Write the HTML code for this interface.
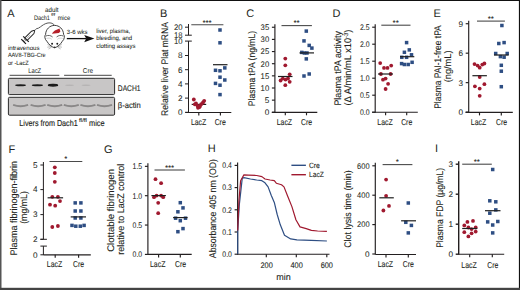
<!DOCTYPE html>
<html><head><meta charset="utf-8"><style>html,body{margin:0;padding:0;width:520px;height:290px;overflow:hidden;background:#fff} text{stroke:#231f20;stroke-width:0.1px}</style></head>
<body>
<svg width="520" height="290" viewBox="0 0 520 290" style="position:absolute;left:0;top:0;font-family:'Liberation Sans', sans-serif;text-rendering:geometricPrecision">
<rect x="0" y="0" width="520" height="290" fill="#fff"/>
<text x="7.2" y="16.6" font-size="11" text-anchor="start" fill="#231f20" style="stroke-width:0">A</text>
<text x="160" y="16.6" font-size="11" text-anchor="start" fill="#231f20" style="stroke-width:0">B</text>
<text x="246.2" y="17" font-size="11" text-anchor="start" fill="#231f20" style="stroke-width:0">C</text>
<text x="332.6" y="17" font-size="11" text-anchor="start" fill="#231f20" style="stroke-width:0">D</text>
<text x="433.4" y="17" font-size="11" text-anchor="start" fill="#231f20" style="stroke-width:0">E</text>
<text x="8.4" y="152.7" font-size="11" text-anchor="start" fill="#231f20" style="stroke-width:0">F</text>
<text x="104" y="153.4" font-size="11" text-anchor="start" fill="#231f20" style="stroke-width:0">G</text>
<text x="207.8" y="152.4" font-size="11" text-anchor="start" fill="#231f20" style="stroke-width:0">H</text>
<text x="435" y="152.4" font-size="11" text-anchor="start" fill="#231f20" style="stroke-width:0">I</text>
<line x1="188.5" y1="24" x2="188.5" y2="35.2" stroke="#231f20" stroke-width="1"/>
<line x1="185" y1="27.2" x2="188.5" y2="27.2" stroke="#231f20" stroke-width="1"/>
<line x1="185" y1="35.2" x2="191.8" y2="35.2" stroke="#231f20" stroke-width="1"/>
<line x1="185" y1="41.1" x2="191.8" y2="41.1" stroke="#231f20" stroke-width="1"/>
<line x1="188.5" y1="41.1" x2="188.5" y2="112.8" stroke="#231f20" stroke-width="1"/>
<line x1="185" y1="55.5" x2="188.5" y2="55.5" stroke="#231f20" stroke-width="1"/>
<line x1="185" y1="69.7" x2="188.5" y2="69.7" stroke="#231f20" stroke-width="1"/>
<line x1="185" y1="83.9" x2="188.5" y2="83.9" stroke="#231f20" stroke-width="1"/>
<line x1="185" y1="98.1" x2="188.5" y2="98.1" stroke="#231f20" stroke-width="1"/>
<line x1="185" y1="112.3" x2="188.5" y2="112.3" stroke="#231f20" stroke-width="1"/>
<text x="182.5" y="30.07" font-size="8.2" text-anchor="end" fill="#231f20" textLength="8.6" lengthAdjust="spacingAndGlyphs" style="stroke-width:0.04">20</text>
<text x="182.5" y="38.07" font-size="8.2" text-anchor="end" fill="#231f20" textLength="8.6" lengthAdjust="spacingAndGlyphs" style="stroke-width:0.04">18</text>
<text x="182.5" y="44.169999999999995" font-size="8.2" text-anchor="end" fill="#231f20" textLength="8.6" lengthAdjust="spacingAndGlyphs" style="stroke-width:0.04">10</text>
<text x="182.5" y="58.47" font-size="8.2" text-anchor="end" fill="#231f20" style="stroke-width:0.04">8</text>
<text x="182.5" y="72.67" font-size="8.2" text-anchor="end" fill="#231f20" style="stroke-width:0.04">6</text>
<text x="182.5" y="86.77000000000001" font-size="8.2" text-anchor="end" fill="#231f20" style="stroke-width:0.04">4</text>
<text x="182.5" y="100.97" font-size="8.2" text-anchor="end" fill="#231f20" style="stroke-width:0.04">2</text>
<text x="182.5" y="115.17" font-size="8.2" text-anchor="end" fill="#231f20" style="stroke-width:0.04">0</text>
<line x1="185.5" y1="112.5" x2="231.3" y2="112.5" stroke="#231f20" stroke-width="1.15"/>
<line x1="198.8" y1="112.5" x2="198.8" y2="115.5" stroke="#231f20" stroke-width="1.15"/>
<line x1="220.4" y1="112.5" x2="220.4" y2="115.5" stroke="#231f20" stroke-width="1.15"/>
<text x="198.6" y="125.0" font-size="8.5" text-anchor="middle" fill="#231f20" textLength="15.4" lengthAdjust="spacingAndGlyphs" >LacZ</text>
<text x="220.2" y="125.0" font-size="8.5" text-anchor="middle" fill="#231f20" textLength="11.1" lengthAdjust="spacingAndGlyphs" >Cre</text>
<line x1="191.3" y1="24.8" x2="223.4" y2="24.8" stroke="#4a4a4a" stroke-width="1.1"/>
<text x="207.35000000000002" y="24.6" font-size="6.8" text-anchor="middle" fill="#231f20" letter-spacing="0.4" style="stroke-width:0.15">***</text>
<line x1="191.7" y1="104.4" x2="206.2" y2="104.4" stroke="#1f1f1f" stroke-width="1.2"/>
<circle cx="193.8" cy="99.5" r="1.9" fill="#a0192f"/>
<circle cx="196" cy="103.5" r="1.9" fill="#a0192f"/>
<circle cx="194.8" cy="104.3" r="1.9" fill="#a0192f"/>
<circle cx="197.5" cy="105.8" r="1.9" fill="#a0192f"/>
<circle cx="198" cy="107.8" r="1.9" fill="#a0192f"/>
<circle cx="199.8" cy="106.2" r="1.9" fill="#a0192f"/>
<circle cx="201.2" cy="104.2" r="1.9" fill="#a0192f"/>
<circle cx="203" cy="102.5" r="1.9" fill="#a0192f"/>
<circle cx="204.2" cy="100.8" r="1.9" fill="#a0192f"/>
<circle cx="199.3" cy="107.2" r="1.9" fill="#a0192f"/>
<rect x="218.25" y="28.25" width="3.5" height="3.5" fill="#2e4e83"/>
<rect x="218.25" y="41.05" width="3.5" height="3.5" fill="#2e4e83"/>
<rect x="213.75" y="68.55" width="3.5" height="3.5" fill="#2e4e83"/>
<rect x="218.25" y="69.05" width="3.5" height="3.5" fill="#2e4e83"/>
<rect x="223.05" y="66.15" width="3.5" height="3.5" fill="#2e4e83"/>
<rect x="218.25" y="75.45" width="3.5" height="3.5" fill="#2e4e83"/>
<rect x="223.05" y="78.25" width="3.5" height="3.5" fill="#2e4e83"/>
<rect x="213.75" y="81.65" width="3.5" height="3.5" fill="#2e4e83"/>
<rect x="218.25" y="83.45" width="3.5" height="3.5" fill="#2e4e83"/>
<rect x="218.25" y="92.85" width="3.5" height="3.5" fill="#2e4e83"/>
<line x1="213" y1="64.7" x2="227.5" y2="64.7" stroke="#1f1f1f" stroke-width="1.2"/>
<text transform="translate(167.9,69) rotate(-90)" x="0" y="0" font-size="9.6" text-anchor="middle" fill="#231f20" textLength="93.8" lengthAdjust="spacingAndGlyphs">Relative liver Plat mRNA</text>
<line x1="274.9" y1="24.249999999999986" x2="274.9" y2="112.8" stroke="#231f20" stroke-width="1.15"/>
<line x1="271.9" y1="112.3" x2="274.9" y2="112.3" stroke="#231f20" stroke-width="1.15"/>
<text x="269.2" y="115.17" font-size="8.2" text-anchor="end" fill="#231f20" style="stroke-width:0.04">0</text>
<line x1="271.9" y1="100.14999999999999" x2="274.9" y2="100.14999999999999" stroke="#231f20" stroke-width="1.15"/>
<text x="269.2" y="103.02" font-size="8.2" text-anchor="end" fill="#231f20" style="stroke-width:0.04">5</text>
<line x1="271.9" y1="88.0" x2="274.9" y2="88.0" stroke="#231f20" stroke-width="1.15"/>
<text x="269.2" y="90.87" font-size="8.2" text-anchor="end" fill="#231f20" textLength="8.6" lengthAdjust="spacingAndGlyphs" style="stroke-width:0.04">10</text>
<line x1="271.9" y1="75.85" x2="274.9" y2="75.85" stroke="#231f20" stroke-width="1.15"/>
<text x="269.2" y="78.72" font-size="8.2" text-anchor="end" fill="#231f20" textLength="8.6" lengthAdjust="spacingAndGlyphs" style="stroke-width:0.04">15</text>
<line x1="271.9" y1="63.699999999999996" x2="274.9" y2="63.699999999999996" stroke="#231f20" stroke-width="1.15"/>
<text x="269.2" y="66.57" font-size="8.2" text-anchor="end" fill="#231f20" textLength="8.6" lengthAdjust="spacingAndGlyphs" style="stroke-width:0.04">20</text>
<line x1="271.9" y1="51.54999999999999" x2="274.9" y2="51.54999999999999" stroke="#231f20" stroke-width="1.15"/>
<text x="269.2" y="54.41999999999999" font-size="8.2" text-anchor="end" fill="#231f20" textLength="8.6" lengthAdjust="spacingAndGlyphs" style="stroke-width:0.04">25</text>
<line x1="271.9" y1="39.39999999999999" x2="274.9" y2="39.39999999999999" stroke="#231f20" stroke-width="1.15"/>
<text x="269.2" y="42.26999999999999" font-size="8.2" text-anchor="end" fill="#231f20" textLength="8.6" lengthAdjust="spacingAndGlyphs" style="stroke-width:0.04">30</text>
<line x1="271.9" y1="27.249999999999986" x2="274.9" y2="27.249999999999986" stroke="#231f20" stroke-width="1.15"/>
<text x="269.2" y="30.119999999999987" font-size="8.2" text-anchor="end" fill="#231f20" textLength="8.6" lengthAdjust="spacingAndGlyphs" style="stroke-width:0.04">35</text>
<line x1="271.8" y1="112.3" x2="317.3" y2="112.3" stroke="#231f20" stroke-width="1.15"/>
<line x1="285.3" y1="112.3" x2="285.3" y2="115.3" stroke="#231f20" stroke-width="1.15"/>
<line x1="306.5" y1="112.3" x2="306.5" y2="115.3" stroke="#231f20" stroke-width="1.15"/>
<text x="284.4" y="124.9" font-size="8.5" text-anchor="middle" fill="#231f20" textLength="15.4" lengthAdjust="spacingAndGlyphs" >LacZ</text>
<text x="306.5" y="124.9" font-size="8.5" text-anchor="middle" fill="#231f20" textLength="11.1" lengthAdjust="spacingAndGlyphs" >Cre</text>
<line x1="281.5" y1="25.6" x2="311.9" y2="25.6" stroke="#4a4a4a" stroke-width="1.1"/>
<text x="296.7" y="25.400000000000002" font-size="6.8" text-anchor="middle" fill="#231f20" letter-spacing="0.4" style="stroke-width:0.15">**</text>
<circle cx="285.3" cy="58.6" r="1.9" fill="#a0192f"/>
<circle cx="285.3" cy="65.3" r="1.9" fill="#a0192f"/>
<circle cx="289.7" cy="74.3" r="1.9" fill="#a0192f"/>
<circle cx="280.6" cy="80.5" r="1.9" fill="#a0192f"/>
<circle cx="282.8" cy="78.6" r="1.9" fill="#a0192f"/>
<circle cx="285.5" cy="79.6" r="1.9" fill="#a0192f"/>
<circle cx="288" cy="78.5" r="1.9" fill="#a0192f"/>
<circle cx="289.7" cy="81.8" r="1.9" fill="#a0192f"/>
<circle cx="285.3" cy="85.2" r="1.9" fill="#a0192f"/>
<line x1="278" y1="76.5" x2="292.5" y2="76.5" stroke="#1f1f1f" stroke-width="1.2"/>
<rect x="304.55" y="29.35" width="3.5" height="3.5" fill="#2e4e83"/>
<rect x="302.25" y="39.15" width="3.5" height="3.5" fill="#2e4e83"/>
<rect x="307.45" y="43.65" width="3.5" height="3.5" fill="#2e4e83"/>
<rect x="310.15" y="46.35" width="3.5" height="3.5" fill="#2e4e83"/>
<rect x="300.05" y="50.65" width="3.5" height="3.5" fill="#2e4e83"/>
<rect x="302.65" y="51.25" width="3.5" height="3.5" fill="#2e4e83"/>
<rect x="305.25" y="51.25" width="3.5" height="3.5" fill="#2e4e83"/>
<rect x="304.55" y="57.15" width="3.5" height="3.5" fill="#2e4e83"/>
<rect x="302.25" y="74.25" width="3.5" height="3.5" fill="#2e4e83"/>
<rect x="307.45" y="72.25" width="3.5" height="3.5" fill="#2e4e83"/>
<line x1="299.5" y1="52.9" x2="314" y2="52.9" stroke="#1f1f1f" stroke-width="1.2"/>
<text transform="translate(254.5,68.6) rotate(-90)" x="0" y="0" font-size="9.6" text-anchor="middle" fill="#231f20" textLength="75.2" lengthAdjust="spacingAndGlyphs">Plasma tPA (ng/mL)</text>
<line x1="375.2" y1="24.200000000000003" x2="375.2" y2="112.7" stroke="#231f20" stroke-width="1.15"/>
<line x1="372.2" y1="112.2" x2="375.2" y2="112.2" stroke="#231f20" stroke-width="1.15"/>
<text x="369.5" y="115.07000000000001" font-size="8.2" text-anchor="end" fill="#231f20" textLength="9.6" lengthAdjust="spacingAndGlyphs" style="stroke-width:0.04">0.0</text>
<line x1="372.2" y1="95.2" x2="375.2" y2="95.2" stroke="#231f20" stroke-width="1.15"/>
<text x="369.5" y="98.07000000000001" font-size="8.2" text-anchor="end" fill="#231f20" textLength="9.6" lengthAdjust="spacingAndGlyphs" style="stroke-width:0.04">0.5</text>
<line x1="372.2" y1="78.2" x2="375.2" y2="78.2" stroke="#231f20" stroke-width="1.15"/>
<text x="369.5" y="81.07000000000001" font-size="8.2" text-anchor="end" fill="#231f20" textLength="9.6" lengthAdjust="spacingAndGlyphs" style="stroke-width:0.04">1.0</text>
<line x1="372.2" y1="61.2" x2="375.2" y2="61.2" stroke="#231f20" stroke-width="1.15"/>
<text x="369.5" y="64.07000000000001" font-size="8.2" text-anchor="end" fill="#231f20" textLength="9.6" lengthAdjust="spacingAndGlyphs" style="stroke-width:0.04">1.5</text>
<line x1="372.2" y1="44.2" x2="375.2" y2="44.2" stroke="#231f20" stroke-width="1.15"/>
<text x="369.5" y="47.07" font-size="8.2" text-anchor="end" fill="#231f20" textLength="9.6" lengthAdjust="spacingAndGlyphs" style="stroke-width:0.04">2.0</text>
<line x1="372.2" y1="27.200000000000003" x2="375.2" y2="27.200000000000003" stroke="#231f20" stroke-width="1.15"/>
<text x="369.5" y="30.070000000000004" font-size="8.2" text-anchor="end" fill="#231f20" textLength="9.6" lengthAdjust="spacingAndGlyphs" style="stroke-width:0.04">2.5</text>
<line x1="372" y1="112.2" x2="417.8" y2="112.2" stroke="#231f20" stroke-width="1.15"/>
<line x1="385.6" y1="112.2" x2="385.6" y2="115.2" stroke="#231f20" stroke-width="1.15"/>
<line x1="406.7" y1="112.2" x2="406.7" y2="115.2" stroke="#231f20" stroke-width="1.15"/>
<text x="385" y="124.8" font-size="8.5" text-anchor="middle" fill="#231f20" textLength="15.4" lengthAdjust="spacingAndGlyphs" >LacZ</text>
<text x="406.7" y="124.8" font-size="8.5" text-anchor="middle" fill="#231f20" textLength="11.1" lengthAdjust="spacingAndGlyphs" >Cre</text>
<line x1="381.3" y1="25.2" x2="410.5" y2="25.2" stroke="#4a4a4a" stroke-width="1.1"/>
<text x="395.9" y="25.0" font-size="6.8" text-anchor="middle" fill="#231f20" letter-spacing="0.4" style="stroke-width:0.15">**</text>
<circle cx="380.2" cy="63.1" r="1.9" fill="#a0192f"/>
<circle cx="384" cy="67.9" r="1.9" fill="#a0192f"/>
<circle cx="387.5" cy="67.9" r="1.9" fill="#a0192f"/>
<circle cx="391.2" cy="65.6" r="1.9" fill="#a0192f"/>
<circle cx="380.9" cy="74" r="1.9" fill="#a0192f"/>
<circle cx="390.6" cy="74" r="1.9" fill="#a0192f"/>
<circle cx="383" cy="79.7" r="1.9" fill="#a0192f"/>
<circle cx="385.6" cy="78.6" r="1.9" fill="#a0192f"/>
<circle cx="388.1" cy="83.8" r="1.9" fill="#a0192f"/>
<circle cx="385.6" cy="89" r="1.9" fill="#a0192f"/>
<line x1="378" y1="74" x2="392.9" y2="74" stroke="#1f1f1f" stroke-width="1.2"/>
<rect x="404.85" y="40.85" width="3.5" height="3.5" fill="#2e4e83"/>
<rect x="402.65" y="50.55" width="3.5" height="3.5" fill="#2e4e83"/>
<rect x="407.55" y="48.15" width="3.5" height="3.5" fill="#2e4e83"/>
<rect x="409.75" y="53.05" width="3.5" height="3.5" fill="#2e4e83"/>
<rect x="400.05" y="55.55" width="3.5" height="3.5" fill="#2e4e83"/>
<rect x="404.85" y="55.55" width="3.5" height="3.5" fill="#2e4e83"/>
<rect x="399.85" y="61.85" width="3.5" height="3.5" fill="#2e4e83"/>
<rect x="402.65" y="62.75" width="3.5" height="3.5" fill="#2e4e83"/>
<rect x="406.45" y="62.75" width="3.5" height="3.5" fill="#2e4e83"/>
<rect x="410.35" y="60.55" width="3.5" height="3.5" fill="#2e4e83"/>
<line x1="400" y1="56.7" x2="414.3" y2="56.7" stroke="#1f1f1f" stroke-width="1.2"/>
<text transform="translate(341.3,68.3) rotate(-90)" x="0" y="0" font-size="9.6" text-anchor="middle" fill="#231f20" textLength="74.5" lengthAdjust="spacingAndGlyphs">Plasma tPA activity</text>
<text transform="translate(350.6,67.6) rotate(-90)" font-size="9.6" text-anchor="middle" fill="#231f20" textLength="75.8" lengthAdjust="spacingAndGlyphs">(Δ A/min/mL x10<tspan dy="-3" font-size="6">-3</tspan><tspan dy="3">)</tspan></text>
<line x1="468.7" y1="20.72" x2="468.7" y2="112.6" stroke="#231f20" stroke-width="1.15"/>
<line x1="465.7" y1="112.1" x2="468.7" y2="112.1" stroke="#231f20" stroke-width="1.15"/>
<text x="463.0" y="114.97" font-size="8.2" text-anchor="end" fill="#231f20" style="stroke-width:0.04">0</text>
<line x1="465.7" y1="82.63999999999999" x2="468.7" y2="82.63999999999999" stroke="#231f20" stroke-width="1.15"/>
<text x="463.0" y="85.50999999999999" font-size="8.2" text-anchor="end" fill="#231f20" style="stroke-width:0.04">3</text>
<line x1="465.7" y1="53.17999999999999" x2="468.7" y2="53.17999999999999" stroke="#231f20" stroke-width="1.15"/>
<text x="463.0" y="56.04999999999999" font-size="8.2" text-anchor="end" fill="#231f20" style="stroke-width:0.04">6</text>
<line x1="465.7" y1="23.72" x2="468.7" y2="23.72" stroke="#231f20" stroke-width="1.15"/>
<text x="463.0" y="26.59" font-size="8.2" text-anchor="end" fill="#231f20" style="stroke-width:0.04">9</text>
<line x1="465.5" y1="112.4" x2="512.8" y2="112.4" stroke="#231f20" stroke-width="1.15"/>
<line x1="479.5" y1="112.4" x2="479.5" y2="115.4" stroke="#231f20" stroke-width="1.15"/>
<line x1="501.3" y1="112.4" x2="501.3" y2="115.4" stroke="#231f20" stroke-width="1.15"/>
<text x="478.5" y="125.0" font-size="8.5" text-anchor="middle" fill="#231f20" textLength="15.4" lengthAdjust="spacingAndGlyphs" >LacZ</text>
<text x="501.5" y="125.0" font-size="8.5" text-anchor="middle" fill="#231f20" textLength="11.1" lengthAdjust="spacingAndGlyphs" >Cre</text>
<line x1="477" y1="21.1" x2="504.9" y2="21.1" stroke="#4a4a4a" stroke-width="1.1"/>
<text x="490.95" y="20.900000000000002" font-size="6.8" text-anchor="middle" fill="#231f20" letter-spacing="0.4" style="stroke-width:0.15">**</text>
<circle cx="474.5" cy="64.1" r="1.9" fill="#a0192f"/>
<circle cx="477.6" cy="65.6" r="1.9" fill="#a0192f"/>
<circle cx="479.7" cy="67.7" r="1.9" fill="#a0192f"/>
<circle cx="482.3" cy="64.6" r="1.9" fill="#a0192f"/>
<circle cx="484.4" cy="63.5" r="1.9" fill="#a0192f"/>
<circle cx="479.7" cy="77" r="1.9" fill="#a0192f"/>
<circle cx="474.9" cy="86.3" r="1.9" fill="#a0192f"/>
<circle cx="479.7" cy="88.6" r="1.9" fill="#a0192f"/>
<circle cx="484.4" cy="84.2" r="1.9" fill="#a0192f"/>
<circle cx="479.7" cy="95.8" r="1.9" fill="#a0192f"/>
<line x1="472.4" y1="75.7" x2="486.9" y2="75.7" stroke="#1f1f1f" stroke-width="1.2"/>
<rect x="500.15" y="23.75" width="3.5" height="3.5" fill="#2e4e83"/>
<rect x="497.05" y="41.75" width="3.5" height="3.5" fill="#2e4e83"/>
<rect x="502.35" y="40.85" width="3.5" height="3.5" fill="#2e4e83"/>
<rect x="493.95" y="51.75" width="3.5" height="3.5" fill="#2e4e83"/>
<rect x="498.65" y="54.85" width="3.5" height="3.5" fill="#2e4e83"/>
<rect x="502.35" y="55.45" width="3.5" height="3.5" fill="#2e4e83"/>
<rect x="505.45" y="51.75" width="3.5" height="3.5" fill="#2e4e83"/>
<rect x="499.55" y="63.55" width="3.5" height="3.5" fill="#2e4e83"/>
<rect x="499.55" y="69.45" width="3.5" height="3.5" fill="#2e4e83"/>
<rect x="499.55" y="84.95" width="3.5" height="3.5" fill="#2e4e83"/>
<line x1="494" y1="55" x2="508.6" y2="55" stroke="#1f1f1f" stroke-width="1.2"/>
<text transform="translate(441.2,67) rotate(-90)" x="0" y="0" font-size="9.6" text-anchor="middle" fill="#231f20" textLength="83.5" lengthAdjust="spacingAndGlyphs">Plasma PAI-1-free tPA</text>
<text transform="translate(451.4,66.4) rotate(-90)" x="0" y="0" font-size="9.6" text-anchor="middle" fill="#231f20" textLength="31.9" lengthAdjust="spacingAndGlyphs">(ng/mL)</text>
<line x1="43.4" y1="162" x2="43.4" y2="239.3" stroke="#231f20" stroke-width="1"/>
<line x1="40.4" y1="165" x2="43.4" y2="165" stroke="#231f20" stroke-width="1"/>
<text x="37.5" y="167.87" font-size="8.2" text-anchor="end" fill="#231f20" style="stroke-width:0.04">5</text>
<line x1="40.4" y1="189.6" x2="43.4" y2="189.6" stroke="#231f20" stroke-width="1"/>
<text x="37.5" y="192.47" font-size="8.2" text-anchor="end" fill="#231f20" style="stroke-width:0.04">4</text>
<line x1="40.4" y1="214.6" x2="43.4" y2="214.6" stroke="#231f20" stroke-width="1"/>
<text x="37.5" y="217.47" font-size="8.2" text-anchor="end" fill="#231f20" style="stroke-width:0.04">3</text>
<line x1="40.4" y1="239.3" x2="43.4" y2="239.3" stroke="#231f20" stroke-width="1"/>
<text x="37.5" y="242.17000000000002" font-size="8.2" text-anchor="end" fill="#231f20" style="stroke-width:0.04">2</text>
<line x1="40.4" y1="239.3" x2="46.9" y2="239.3" stroke="#231f20" stroke-width="1"/>
<line x1="40.4" y1="246.1" x2="46.9" y2="246.1" stroke="#231f20" stroke-width="1"/>
<line x1="43.4" y1="246.1" x2="43.4" y2="255" stroke="#231f20" stroke-width="1"/>
<line x1="40.4" y1="254.8" x2="43.4" y2="254.8" stroke="#231f20" stroke-width="1"/>
<text x="37.5" y="257.67" font-size="8.2" text-anchor="end" fill="#231f20" style="stroke-width:0.04">0</text>
<line x1="43.4" y1="254.8" x2="90.8" y2="254.8" stroke="#231f20" stroke-width="1.15"/>
<line x1="55.2" y1="254.8" x2="55.2" y2="257.8" stroke="#231f20" stroke-width="1.15"/>
<line x1="78.6" y1="254.8" x2="78.6" y2="257.8" stroke="#231f20" stroke-width="1.15"/>
<text x="54.5" y="267.3" font-size="8.5" text-anchor="middle" fill="#231f20" textLength="15.4" lengthAdjust="spacingAndGlyphs" >LacZ</text>
<text x="78.5" y="267.3" font-size="8.5" text-anchor="middle" fill="#231f20" textLength="11.1" lengthAdjust="spacingAndGlyphs" >Cre</text>
<line x1="49.5" y1="161.5" x2="82.3" y2="161.5" stroke="#4a4a4a" stroke-width="1.1"/>
<text x="65.9" y="161.3" font-size="6.8" text-anchor="middle" fill="#231f20" letter-spacing="0.4" style="stroke-width:0.15">*</text>
<circle cx="54.8" cy="167.3" r="1.9" fill="#a0192f"/>
<circle cx="54.8" cy="173" r="1.9" fill="#a0192f"/>
<circle cx="54.8" cy="181.8" r="1.9" fill="#a0192f"/>
<circle cx="52.3" cy="196.8" r="1.9" fill="#a0192f"/>
<circle cx="57.9" cy="196.8" r="1.9" fill="#a0192f"/>
<circle cx="50" cy="204.7" r="1.9" fill="#a0192f"/>
<circle cx="55.2" cy="205.7" r="1.9" fill="#a0192f"/>
<circle cx="60" cy="201.1" r="1.9" fill="#a0192f"/>
<circle cx="52.3" cy="227" r="1.9" fill="#a0192f"/>
<circle cx="57.9" cy="226" r="1.9" fill="#a0192f"/>
<line x1="47.6" y1="197.8" x2="63.1" y2="197.8" stroke="#1f1f1f" stroke-width="1.2"/>
<rect x="73.45" y="201.15" width="3.5" height="3.5" fill="#2e4e83"/>
<rect x="79.15" y="201.15" width="3.5" height="3.5" fill="#2e4e83"/>
<rect x="73.45" y="209.25" width="3.5" height="3.5" fill="#2e4e83"/>
<rect x="79.15" y="209.25" width="3.5" height="3.5" fill="#2e4e83"/>
<rect x="73.45" y="216.25" width="3.5" height="3.5" fill="#2e4e83"/>
<rect x="79.15" y="216.25" width="3.5" height="3.5" fill="#2e4e83"/>
<rect x="70.25" y="223.65" width="3.5" height="3.5" fill="#2e4e83"/>
<rect x="74.05" y="224.45" width="3.5" height="3.5" fill="#2e4e83"/>
<rect x="78.55" y="224.45" width="3.5" height="3.5" fill="#2e4e83"/>
<rect x="82.35" y="223.65" width="3.5" height="3.5" fill="#2e4e83"/>
<line x1="70.7" y1="216.9" x2="86" y2="216.9" stroke="#1f1f1f" stroke-width="1.2"/>
<text transform="translate(16.9,208.2) rotate(-90)" x="0" y="0" font-size="9.6" text-anchor="middle" fill="#231f20" textLength="94.6" lengthAdjust="spacingAndGlyphs">Plasma fibrinogen-fibrin</text>
<text transform="translate(26.7,207.5) rotate(-90)" x="0" y="0" font-size="9.6" text-anchor="middle" fill="#231f20" textLength="32.6" lengthAdjust="spacingAndGlyphs">(mg/mL)</text>
<line x1="147.9" y1="163.35" x2="147.9" y2="254.9" stroke="#231f20" stroke-width="1.15"/>
<line x1="144.9" y1="254.4" x2="147.9" y2="254.4" stroke="#231f20" stroke-width="1.15"/>
<text x="142.20000000000002" y="257.27" font-size="8.2" text-anchor="end" fill="#231f20" textLength="9.6" lengthAdjust="spacingAndGlyphs" style="stroke-width:0.04">0.0</text>
<line x1="144.9" y1="225.05" x2="147.9" y2="225.05" stroke="#231f20" stroke-width="1.15"/>
<text x="142.20000000000002" y="227.92000000000002" font-size="8.2" text-anchor="end" fill="#231f20" textLength="9.6" lengthAdjust="spacingAndGlyphs" style="stroke-width:0.04">0.5</text>
<line x1="144.9" y1="195.7" x2="147.9" y2="195.7" stroke="#231f20" stroke-width="1.15"/>
<text x="142.20000000000002" y="198.57" font-size="8.2" text-anchor="end" fill="#231f20" textLength="9.6" lengthAdjust="spacingAndGlyphs" style="stroke-width:0.04">1.0</text>
<line x1="144.9" y1="166.35" x2="147.9" y2="166.35" stroke="#231f20" stroke-width="1.15"/>
<text x="142.20000000000002" y="169.22" font-size="8.2" text-anchor="end" fill="#231f20" textLength="9.6" lengthAdjust="spacingAndGlyphs" style="stroke-width:0.04">1.5</text>
<line x1="147.9" y1="254.4" x2="191.7" y2="254.4" stroke="#231f20" stroke-width="1.15"/>
<line x1="158.6" y1="254.4" x2="158.6" y2="257.4" stroke="#231f20" stroke-width="1.15"/>
<line x1="180.3" y1="254.4" x2="180.3" y2="257.4" stroke="#231f20" stroke-width="1.15"/>
<text x="157.7" y="267.09999999999997" font-size="8.5" text-anchor="middle" fill="#231f20" textLength="15.4" lengthAdjust="spacingAndGlyphs" >LacZ</text>
<text x="180.6" y="267.09999999999997" font-size="8.5" text-anchor="middle" fill="#231f20" textLength="11.1" lengthAdjust="spacingAndGlyphs" >Cre</text>
<line x1="154.5" y1="170.0" x2="184.9" y2="170.0" stroke="#4a4a4a" stroke-width="1.1"/>
<text x="169.7" y="169.8" font-size="6.8" text-anchor="middle" fill="#231f20" letter-spacing="0.4" style="stroke-width:0.15">***</text>
<circle cx="155.5" cy="179.2" r="1.9" fill="#a0192f"/>
<circle cx="161.1" cy="183.2" r="1.9" fill="#a0192f"/>
<circle cx="154" cy="197.2" r="1.9" fill="#a0192f"/>
<circle cx="156.6" cy="195.6" r="1.9" fill="#a0192f"/>
<circle cx="161.1" cy="195.6" r="1.9" fill="#a0192f"/>
<circle cx="163.2" cy="197.2" r="1.9" fill="#a0192f"/>
<circle cx="158.2" cy="202.8" r="1.9" fill="#a0192f"/>
<circle cx="158.2" cy="213.2" r="1.9" fill="#a0192f"/>
<line x1="151.4" y1="195.6" x2="165.9" y2="195.6" stroke="#1f1f1f" stroke-width="1.2"/>
<rect x="178.55" y="200.95" width="3.5" height="3.5" fill="#2e4e83"/>
<rect x="181.25" y="206.15" width="3.5" height="3.5" fill="#2e4e83"/>
<rect x="176.15" y="210.05" width="3.5" height="3.5" fill="#2e4e83"/>
<rect x="173.85" y="216.45" width="3.5" height="3.5" fill="#2e4e83"/>
<rect x="178.55" y="218.95" width="3.5" height="3.5" fill="#2e4e83"/>
<rect x="183.75" y="216.45" width="3.5" height="3.5" fill="#2e4e83"/>
<rect x="181.25" y="226.85" width="3.5" height="3.5" fill="#2e4e83"/>
<rect x="176.15" y="229.95" width="3.5" height="3.5" fill="#2e4e83"/>
<line x1="173.1" y1="217.6" x2="187.6" y2="217.6" stroke="#1f1f1f" stroke-width="1.2"/>
<text transform="translate(114,210.4) rotate(-90)" x="0" y="0" font-size="9.6" text-anchor="middle" fill="#231f20" textLength="82.9" lengthAdjust="spacingAndGlyphs">Clottable fibrinogen</text>
<text transform="translate(124.3,209.3) rotate(-90)" x="0" y="0" font-size="9.6" text-anchor="middle" fill="#231f20" textLength="90.9" lengthAdjust="spacingAndGlyphs">relative to LacZ control</text>
<line x1="237.6" y1="162.39999999999998" x2="237.6" y2="254.7" stroke="#231f20" stroke-width="1.15"/>
<line x1="234.6" y1="254.2" x2="237.6" y2="254.2" stroke="#231f20" stroke-width="1.15"/>
<text x="231.9" y="257.07" font-size="8.2" text-anchor="end" fill="#231f20" textLength="9.6" lengthAdjust="spacingAndGlyphs" style="stroke-width:0.04">0.0</text>
<line x1="234.6" y1="232.0" x2="237.6" y2="232.0" stroke="#231f20" stroke-width="1.15"/>
<text x="231.9" y="234.87" font-size="8.2" text-anchor="end" fill="#231f20" textLength="9.6" lengthAdjust="spacingAndGlyphs" style="stroke-width:0.04">0.1</text>
<line x1="234.6" y1="209.79999999999998" x2="237.6" y2="209.79999999999998" stroke="#231f20" stroke-width="1.15"/>
<text x="231.9" y="212.67" font-size="8.2" text-anchor="end" fill="#231f20" textLength="9.6" lengthAdjust="spacingAndGlyphs" style="stroke-width:0.04">0.2</text>
<line x1="234.6" y1="187.6" x2="237.6" y2="187.6" stroke="#231f20" stroke-width="1.15"/>
<text x="231.9" y="190.47" font-size="8.2" text-anchor="end" fill="#231f20" textLength="9.6" lengthAdjust="spacingAndGlyphs" style="stroke-width:0.04">0.3</text>
<line x1="234.6" y1="165.39999999999998" x2="237.6" y2="165.39999999999998" stroke="#231f20" stroke-width="1.15"/>
<text x="231.9" y="168.26999999999998" font-size="8.2" text-anchor="end" fill="#231f20" textLength="9.6" lengthAdjust="spacingAndGlyphs" style="stroke-width:0.04">0.4</text>
<line x1="237.6" y1="254.2" x2="329.5" y2="254.2" stroke="#231f20" stroke-width="1.15"/>
<line x1="266.3" y1="254.2" x2="266.3" y2="257.2" stroke="#231f20" stroke-width="1.15"/>
<line x1="296.3" y1="254.2" x2="296.3" y2="257.2" stroke="#231f20" stroke-width="1.15"/>
<line x1="326.8" y1="254.2" x2="326.8" y2="257.2" stroke="#231f20" stroke-width="1.15"/>
<text x="266.6" y="267.8" font-size="8.2" text-anchor="middle" fill="#231f20" textLength="12.3" lengthAdjust="spacingAndGlyphs" >200</text>
<text x="296.6" y="267.8" font-size="8.2" text-anchor="middle" fill="#231f20" textLength="12.3" lengthAdjust="spacingAndGlyphs" >400</text>
<text x="326.8" y="267.8" font-size="8.2" text-anchor="middle" fill="#231f20" textLength="12.3" lengthAdjust="spacingAndGlyphs" >600</text>
<text x="283.5" y="280.3" font-size="9" text-anchor="middle" fill="#231f20" >min</text>
<text transform="translate(215.9,208.6) rotate(-90)" x="0" y="0" font-size="9.6" text-anchor="middle" fill="#231f20" textLength="99.1" lengthAdjust="spacingAndGlyphs">Absorbance 405 nm (OD)</text>
<polyline points="237.7,254 237.7,230.5 239.3,205 242.2,178.6 243.9,177.6 250.5,179 256.7,180 261.9,180.7 265,182.8 268.1,186.9 271.2,195.2 274.3,202.4 277.2,214.5 280.3,224.8 284.5,235.2 290.7,238.9 296.9,239.9 311.4,240.3 326.9,241" fill="none" stroke="#2e4e83" stroke-width="1.2" stroke-linejoin="round"/>
<polyline points="237.7,230.5 238.9,201 240.6,180.7 243.9,174.9 248.4,175.1 256.7,175.5 261.9,176.6 265,179 270.1,180 274.3,180.7 276.3,183.2 281.5,184.8 284,186.9 287.7,196.2 291.9,206.6 295.9,219.7 300,226.9 306.2,228.6 311.4,230.4 317.6,231 326.9,231.4" fill="none" stroke="#a0192f" stroke-width="1.2" stroke-linejoin="round"/>
<line x1="291.4" y1="165.3" x2="305.9" y2="165.3" stroke="#2e4e83" stroke-width="1.4"/>
<line x1="291.4" y1="174.7" x2="305.9" y2="174.7" stroke="#a0192f" stroke-width="1.4"/>
<text x="309" y="167.9" font-size="7.6" text-anchor="start" fill="#231f20" textLength="10.8" lengthAdjust="spacingAndGlyphs" >Cre</text>
<text x="309" y="177.2" font-size="7.6" text-anchor="start" fill="#231f20" textLength="14.9" lengthAdjust="spacingAndGlyphs" >LacZ</text>
<line x1="375.3" y1="162.8" x2="375.3" y2="254.5" stroke="#231f20" stroke-width="1.15"/>
<line x1="372.3" y1="254.0" x2="375.3" y2="254.0" stroke="#231f20" stroke-width="1.15"/>
<text x="369.6" y="256.87" font-size="8.2" text-anchor="end" fill="#231f20" style="stroke-width:0.04">0</text>
<line x1="372.3" y1="224.6" x2="375.3" y2="224.6" stroke="#231f20" stroke-width="1.15"/>
<text x="369.6" y="227.47" font-size="8.2" text-anchor="end" fill="#231f20" textLength="12.5" lengthAdjust="spacingAndGlyphs" style="stroke-width:0.04">200</text>
<line x1="372.3" y1="195.2" x2="375.3" y2="195.2" stroke="#231f20" stroke-width="1.15"/>
<text x="369.6" y="198.07" font-size="8.2" text-anchor="end" fill="#231f20" textLength="12.5" lengthAdjust="spacingAndGlyphs" style="stroke-width:0.04">400</text>
<line x1="372.3" y1="165.8" x2="375.3" y2="165.8" stroke="#231f20" stroke-width="1.15"/>
<text x="369.6" y="168.67000000000002" font-size="8.2" text-anchor="end" fill="#231f20" textLength="12.5" lengthAdjust="spacingAndGlyphs" style="stroke-width:0.04">600</text>
<line x1="375.3" y1="254.5" x2="416" y2="254.5" stroke="#231f20" stroke-width="1.15"/>
<line x1="386" y1="254.5" x2="386" y2="257.5" stroke="#231f20" stroke-width="1.15"/>
<line x1="408.3" y1="254.5" x2="408.3" y2="257.5" stroke="#231f20" stroke-width="1.15"/>
<text x="385.4" y="267.2" font-size="8.5" text-anchor="middle" fill="#231f20" textLength="15.4" lengthAdjust="spacingAndGlyphs" >LacZ</text>
<text x="408.3" y="267.2" font-size="8.5" text-anchor="middle" fill="#231f20" textLength="11.1" lengthAdjust="spacingAndGlyphs" >Cre</text>
<line x1="382.6" y1="164.60000000000002" x2="412.4" y2="164.60000000000002" stroke="#4a4a4a" stroke-width="1.1"/>
<text x="397.5" y="164.40000000000003" font-size="6.8" text-anchor="middle" fill="#231f20" letter-spacing="0.4" style="stroke-width:0.15">*</text>
<circle cx="386.1" cy="179.6" r="1.9" fill="#a0192f"/>
<circle cx="386.1" cy="195.8" r="1.9" fill="#a0192f"/>
<circle cx="389" cy="205.9" r="1.9" fill="#a0192f"/>
<circle cx="383.4" cy="210.5" r="1.9" fill="#a0192f"/>
<line x1="379.3" y1="197.8" x2="393.8" y2="197.8" stroke="#1f1f1f" stroke-width="1.2"/>
<rect x="406.55" y="201.25" width="3.5" height="3.5" fill="#2e4e83"/>
<rect x="404.05" y="220.55" width="3.5" height="3.5" fill="#2e4e83"/>
<rect x="409.65" y="223.65" width="3.5" height="3.5" fill="#2e4e83"/>
<rect x="406.55" y="231.15" width="3.5" height="3.5" fill="#2e4e83"/>
<line x1="401.1" y1="220.8" x2="416" y2="220.8" stroke="#1f1f1f" stroke-width="1.2"/>
<text transform="translate(351.1,209.1) rotate(-90)" x="0" y="0" font-size="9.6" text-anchor="middle" fill="#231f20" textLength="77.4" lengthAdjust="spacingAndGlyphs">Clot lysis time (min)</text>
<line x1="458.7" y1="161.2" x2="458.7" y2="254.7" stroke="#231f20" stroke-width="1.4"/>
<line x1="455.7" y1="254.2" x2="458.7" y2="254.2" stroke="#231f20" stroke-width="1.4"/>
<text x="453.0" y="257.07" font-size="8.2" text-anchor="end" fill="#231f20" style="stroke-width:0.04">0</text>
<line x1="455.7" y1="224.2" x2="458.7" y2="224.2" stroke="#231f20" stroke-width="1.4"/>
<text x="453.0" y="227.07" font-size="8.2" text-anchor="end" fill="#231f20" style="stroke-width:0.04">1</text>
<line x1="455.7" y1="194.2" x2="458.7" y2="194.2" stroke="#231f20" stroke-width="1.4"/>
<text x="453.0" y="197.07" font-size="8.2" text-anchor="end" fill="#231f20" style="stroke-width:0.04">2</text>
<line x1="455.7" y1="164.2" x2="458.7" y2="164.2" stroke="#231f20" stroke-width="1.4"/>
<text x="453.0" y="167.07" font-size="8.2" text-anchor="end" fill="#231f20" style="stroke-width:0.04">3</text>
<line x1="458.7" y1="254.2" x2="504.2" y2="254.2" stroke="#231f20" stroke-width="1.15"/>
<line x1="469.7" y1="254.2" x2="469.7" y2="257.2" stroke="#231f20" stroke-width="1.15"/>
<line x1="492.3" y1="254.2" x2="492.3" y2="257.2" stroke="#231f20" stroke-width="1.15"/>
<text x="469" y="267.7" font-size="8.5" text-anchor="middle" fill="#231f20" textLength="15.4" lengthAdjust="spacingAndGlyphs" >LacZ</text>
<text x="492.8" y="267.7" font-size="8.5" text-anchor="middle" fill="#231f20" textLength="11.1" lengthAdjust="spacingAndGlyphs" >Cre</text>
<line x1="462.2" y1="164.20000000000002" x2="491.8" y2="164.20000000000002" stroke="#4a4a4a" stroke-width="1.1"/>
<text x="477.0" y="164.00000000000003" font-size="6.8" text-anchor="middle" fill="#231f20" letter-spacing="0.4" style="stroke-width:0.15">**</text>
<circle cx="467.4" cy="221.9" r="1.9" fill="#a0192f"/>
<circle cx="473" cy="220.9" r="1.9" fill="#a0192f"/>
<circle cx="464.3" cy="225.4" r="1.9" fill="#a0192f"/>
<circle cx="468.4" cy="227.5" r="1.9" fill="#a0192f"/>
<circle cx="471.6" cy="229.1" r="1.9" fill="#a0192f"/>
<circle cx="475.7" cy="227.5" r="1.9" fill="#a0192f"/>
<circle cx="464.3" cy="232.2" r="1.9" fill="#a0192f"/>
<circle cx="471.6" cy="233.3" r="1.9" fill="#a0192f"/>
<circle cx="475.7" cy="231.6" r="1.9" fill="#a0192f"/>
<circle cx="468.4" cy="236.4" r="1.9" fill="#a0192f"/>
<line x1="462.2" y1="228.5" x2="477.3" y2="228.5" stroke="#1f1f1f" stroke-width="1.2"/>
<rect x="490.95" y="167.75" width="3.5" height="3.5" fill="#2e4e83"/>
<rect x="488.05" y="199.05" width="3.5" height="3.5" fill="#2e4e83"/>
<rect x="494.05" y="200.05" width="3.5" height="3.5" fill="#2e4e83"/>
<rect x="494.05" y="208.15" width="3.5" height="3.5" fill="#2e4e83"/>
<rect x="488.05" y="211.45" width="3.5" height="3.5" fill="#2e4e83"/>
<rect x="485.95" y="220.15" width="3.5" height="3.5" fill="#2e4e83"/>
<rect x="496.05" y="219.75" width="3.5" height="3.5" fill="#2e4e83"/>
<rect x="490.95" y="223.25" width="3.5" height="3.5" fill="#2e4e83"/>
<rect x="490.95" y="231.15" width="3.5" height="3.5" fill="#2e4e83"/>
<line x1="485" y1="210.7" x2="500.5" y2="210.7" stroke="#1f1f1f" stroke-width="1.2"/>
<text transform="translate(442.9,207.9) rotate(-90)" x="0" y="0" font-size="9.6" text-anchor="middle" fill="#231f20" textLength="79.9" lengthAdjust="spacingAndGlyphs">Plasma FDP (µg/mL)</text>
<rect x="8.4" y="78.3" width="106.2" height="16.3" rx="1.2" fill="#c8c6c6" stroke="#2a2a2a" stroke-width="1"/>
<rect x="8.4" y="97.3" width="106.2" height="17.9" rx="1.2" fill="#c8c6c6" stroke="#2a2a2a" stroke-width="1"/>
<filter id="bl" x="-20%" y="-100%" width="140%" height="300%"><feGaussianBlur stdDeviation="0.35"/></filter>
<g filter="url(#bl)">
<ellipse cx="20.549999999999997" cy="85.2" rx="5.35" ry="1.05" fill="#1a1a1a"/>
<ellipse cx="37.4" cy="85.2" rx="5.6" ry="1.05" fill="#1a1a1a"/>
<ellipse cx="53.0" cy="85.2" rx="5.200000000000003" ry="1.45" fill="#1a1a1a"/>
<ellipse cx="69.5" cy="85.2" rx="4.5" ry="0.7" fill="#b6b4b4"/>
<ellipse cx="86" cy="85.2" rx="4.5" ry="0.7" fill="#b6b4b4"/>
<path d="M13.1,104.9 Q20.6,107.6 28.1,104.9" fill="none" stroke="#8a8888" stroke-width="1.8"/>
<path d="M30.6,104.9 Q38.1,107.6 45.6,104.9" fill="none" stroke="#8a8888" stroke-width="1.8"/>
<path d="M47.2,104.9 Q54.7,107.6 62.2,104.9" fill="none" stroke="#8a8888" stroke-width="1.8"/>
<path d="M63.8,104.9 Q71.3,107.6 78.8,104.9" fill="none" stroke="#8a8888" stroke-width="1.8"/>
<path d="M80.4,104.9 Q87.9,107.6 95.4,104.9" fill="none" stroke="#8a8888" stroke-width="1.8"/>
<path d="M97,104.9 Q104.5,107.6 112,104.9" fill="none" stroke="#8a8888" stroke-width="1.8"/>
</g>
<text x="117.8" y="91" font-size="8.3" text-anchor="start" fill="#231f20" textLength="22.7" lengthAdjust="spacingAndGlyphs" style="stroke-width:0.12">DACH1</text>
<text x="117.8" y="107.6" font-size="8.3" text-anchor="start" fill="#231f20" textLength="23" lengthAdjust="spacingAndGlyphs" style="stroke-width:0.12">β-actin</text>
<line x1="9.6" y1="75.3" x2="59.3" y2="75.3" stroke="#333" stroke-width="0.9"/>
<line x1="64.1" y1="75.3" x2="111.7" y2="75.3" stroke="#333" stroke-width="0.9"/>
<text x="34.7" y="73" font-size="7" text-anchor="middle" fill="#231f20" textLength="13" lengthAdjust="spacingAndGlyphs" style="stroke-width:0">LacZ</text>
<text x="88" y="72.9" font-size="7" text-anchor="middle" fill="#231f20" textLength="10.3" lengthAdjust="spacingAndGlyphs" style="stroke-width:0">Cre</text>
<text x="19.3" y="125.8" font-size="8.6" text-anchor="start" fill="#231f20" textLength="58.4" lengthAdjust="spacingAndGlyphs" style="stroke-width:0.15">Livers from Dach1</text>
<text x="79" y="121.6" font-size="5.6" text-anchor="start" fill="#231f20" textLength="8" lengthAdjust="spacingAndGlyphs" style="stroke-width:0.1">fl/fl</text>
<text x="89" y="125.8" font-size="8.6" text-anchor="start" fill="#231f20" textLength="15.6" lengthAdjust="spacingAndGlyphs" style="stroke-width:0.15">mice</text>
<text x="51.8" y="12.1" font-size="6.5" text-anchor="middle" fill="#231f20" textLength="13.4" lengthAdjust="spacingAndGlyphs" style="stroke-width:0.05">adult</text>
<text x="33.9" y="19.7" font-size="6.5" text-anchor="start" fill="#231f20" textLength="16" lengthAdjust="spacingAndGlyphs" style="stroke-width:0.05">Dach1</text>
<text x="51.2" y="15.8" font-size="4" text-anchor="start" fill="#231f20" textLength="3.9" lengthAdjust="spacingAndGlyphs" style="stroke-width:0.05">f/f</text>
<text x="57.7" y="19.7" font-size="6.5" text-anchor="start" fill="#231f20" textLength="12.5" lengthAdjust="spacingAndGlyphs" style="stroke-width:0.05">mice</text>
<text x="7.9" y="49.6" font-size="6.2" text-anchor="start" fill="#231f20" textLength="31.6" lengthAdjust="spacingAndGlyphs" style="stroke-width:0.05">intravenous</text>
<text x="7.9" y="56.9" font-size="6.2" text-anchor="start" fill="#231f20" textLength="37.8" lengthAdjust="spacingAndGlyphs" style="stroke-width:0.05">AAV8-TBG-Cre</text>
<text x="7.9" y="64.5" font-size="6.2" text-anchor="start" fill="#231f20" textLength="20.8" lengthAdjust="spacingAndGlyphs" style="stroke-width:0.05">or -LacZ</text>
<text x="66.8" y="34.0" font-size="6.2" text-anchor="start" fill="#231f20" textLength="20.7" lengthAdjust="spacingAndGlyphs" style="stroke-width:0.05">3-6 wks</text>
<text x="96.2" y="33.1" font-size="6.2" text-anchor="start" fill="#231f20" textLength="34" lengthAdjust="spacingAndGlyphs" style="stroke-width:0.05">liver, plasma,</text>
<text x="96.2" y="40.4" font-size="6.2" text-anchor="start" fill="#231f20" textLength="36" lengthAdjust="spacingAndGlyphs" style="stroke-width:0.05">bleeding, and</text>
<text x="96.2" y="47.7" font-size="6.2" text-anchor="start" fill="#231f20" textLength="39.2" lengthAdjust="spacingAndGlyphs" style="stroke-width:0.05">clotting assays</text>
<line x1="66.8" y1="38.6" x2="86" y2="38.6" stroke="#111" stroke-width="1.3"/>
<path d="M84.2,34.9 L94.4,38.6 L84.2,42.3 L86.2,38.6 Z" fill="#111"/>
<g transform="translate(23.6,41.5) rotate(-45)"><line x1="0" y1="-3.3" x2="0" y2="3.3" stroke="#1a1a1a" stroke-width="1.25"/><line x1="3.4" y1="-3.9" x2="3.4" y2="3.9" stroke="#1a1a1a" stroke-width="1.25"/><line x1="0" y1="-0.7" x2="3.4" y2="-0.7" stroke="#333" stroke-width="0.5"/><line x1="0" y1="0.7" x2="3.4" y2="0.7" stroke="#333" stroke-width="0.5"/><path d="M3.4,-1.7 L12.9,-1.7 L15.4,-0.3 L15.4,0.3 L12.9,1.7 L3.4,1.7 Z" fill="#fff" stroke="#222" stroke-width="0.95"/><line x1="3.4" y1="0" x2="9" y2="0" stroke="#888" stroke-width="0.6"/><line x1="15.4" y1="0" x2="18.3" y2="0" stroke="#333" stroke-width="0.6"/></g>
<path d="M36.3,28.8 C38,28.6 39,27.9 40.5,26.8 C42.5,25.3 44.5,23.8 47,23.2 C49.5,22.6 52.5,22.6 54.6,25.4" fill="none" stroke="#555" stroke-width="1.0"/>
<path d="M54.6,25.4 C59.5,25.4 63.4,29.3 63.6,34.4 C64.9,35.8 64.6,39.3 62.3,41.3 C60.8,44 57.7,47 54.6,47.8 C51.5,47 48.4,44 46.9,41.3 C44.6,39.3 44.3,35.8 45.6,34.4 C45.8,29.3 49.7,25.4 54.6,25.4 Z" fill="#fff" stroke="#2a2a2a" stroke-width="0.9"/>
<path d="M45.9,36 C48,35 50.8,35.3 52.6,37 M63.3,36 C61.2,35 58.4,35.3 56.6,37" fill="none" stroke="#555" stroke-width="0.9"/>
<path d="M46.5,38.5 C48.5,37.8 50.5,38 51.8,39.3 M62.7,38.5 C60.7,37.8 58.7,38 57.4,39.3" fill="none" stroke="#aaa" stroke-width="0.5"/>
<path d="M51.9,33.7 C53,32 54.5,30.5 56,30 L59.5,28.6 L60.4,31.6 L58.9,33.1 Z" fill="#b5202a"/>
<circle cx="52.1" cy="43.7" r="0.95" fill="#1a1a1a"/>
<circle cx="57.3" cy="43.7" r="0.95" fill="#1a1a1a"/>
<circle cx="54.6" cy="47.2" r="0.8" fill="#222"/>
<path d="M51.5,46 L47.5,44.6 M51.5,46.5 L47.3,47.2 M51.8,47 L48.5,49 M57.7,46 L61.7,44.6 M57.7,46.5 L61.9,47.2 M57.4,47 L60.7,49" stroke="#555" stroke-width="0.4"/>
<rect x="0" y="0" width="520" height="1.0" fill="#111"/>
<rect x="0" y="0" width="1.5" height="290" fill="#555"/>
<rect x="518.9" y="0" width="1.1" height="290" fill="#111"/>
<rect x="0" y="287.8" width="520" height="2.2" fill="#444"/>
</svg>
</body></html>
